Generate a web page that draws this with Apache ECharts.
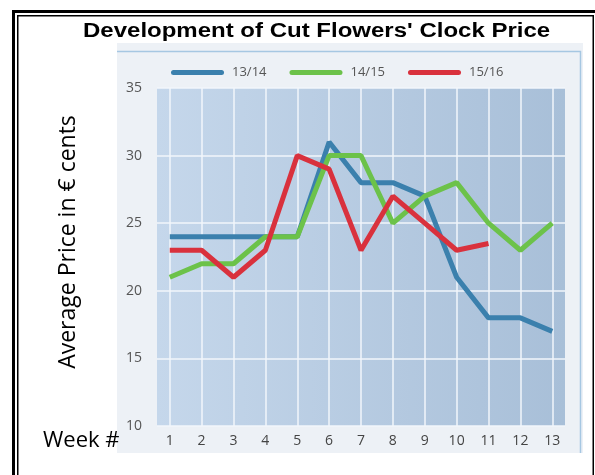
<!DOCTYPE html>
<html>
<head>
<meta charset="utf-8">
<script src="https://cdn.jsdelivr.net/npm/echarts@6/dist/echarts.min.js"></script>
<style>
  html, body { margin: 0; padding: 0; background: #fff; }
  #chart { width: 595px; height: 475px; }
</style>
</head>
<body>
<div id="chart"></div>
<script>
// chart data
var weeks = [1, 2, 3, 4, 5, 6, 7, 8, 9, 10, 11, 12, 13];
var seasons = ["13/14", "14/15", "15/16"];
var price1314 = [24, 24, 24, 24, 24, 31, 28, 28, 27, 21, 18, 18, 17];
var price1415 = [21, 22, 22, 24, 24, 30, 30, 25, 27, 28, 25, 23, 25];
var price1516 = [23, 23, 21, 23, 30, 29, 23, 27, 25, 23, 23.5];
var yTicks = [10, 15, 20, 25, 30, 35];
var colors = ["#3b80ad", "#6cc24a", "#d9313d"];

function pairs(values) {
    return values.map(function (v, i) { return [weeks[i], v]; });
}

var myChart = echarts.init(document.getElementById("chart"));
var font = "'Open Sans', sans-serif";

option = {
    animation: false,
    color: colors,
    legend: {
        data: seasons,
        left: 166,
        top: 61,
        itemWidth: 53,
        itemHeight: 5,
        itemGap: 23,
        icon: "path://M2.5,0 H50.5 A2.5,2.5 0 0 1 50.5,5 H2.5 A2.5,2.5 0 0 1 2.5,0 Z",
        textStyle: { fontFamily: font, fontSize: 13, color: "#555", padding: [0, 0, 0, 3] },
    },
    grid: {
        left: 157,
        right: 30,
        top: 88,
        bottom: 49,
        show: true,
        borderWidth: 0,
        backgroundColor: new echarts.graphic.LinearGradient(0, 0, 1, 0, [
            { offset: 0, color: "#c5d7eb" },
            { offset: 1, color: "#a8bfd8" },
        ]),
    },
    xAxis: {
        type: "value",
        min: 0.6,
        max: 13.4,
        axisLine: { show: false },
        axisTick: { show: false, customValues: weeks },
        axisLabel: {
            customValues: weeks,
            margin: 8,
            fontFamily: font,
            fontSize: 14,
            color: "#444",
        },
        splitLine: { show: true, lineStyle: { color: "#f2f6fb", width: 1.5 } },
    },
    yAxis: {
        type: "value",
        min: yTicks[0],
        max: yTicks[yTicks.length - 1],
        interval: 5,
        axisLine: { show: false },
        axisTick: { show: false },
        axisLabel: { margin: 15, fontFamily: font, fontSize: 14, color: "#555" },
        splitLine: { show: true, lineStyle: { color: "#f2f6fb", width: 1.5 } },
    },
    graphic: [
        // screenshot panel behind the chart
        {
            type: "rect", z: -10, silent: true,
            shape: { x: 117, y: 43, width: 466, height: 410 },
            style: { fill: "#edf1f6" },
        },
        {
            type: "polyline", z: -9, silent: true,
            shape: { points: [[117, 51.5], [580.5, 51.5], [580.5, 453]] },
            style: { stroke: "#a6c7e2", lineWidth: 1.5, fill: null },
        },
        // double page border
        {
            type: "rect", z: 100, silent: true,
            shape: { x: 13.5, y: 11.5, width: 600, height: 500 },
            style: { stroke: "#000", lineWidth: 3, fill: null },
        },
        {
            type: "rect", z: 100, silent: true,
            shape: { x: 17.75, y: 15.75, width: 575.5, height: 500 },
            style: { stroke: "#000", lineWidth: 1.5, fill: null },
        },
        // title is stretched wide in the original
        {
            type: "text", z: 100,
            x: 83, y: 31, scaleX: 1.2,
            style: {
                text: "Development of Cut Flowers' Clock Price",
                font: "bold 20px 'Liberation Sans', Arial, sans-serif",
                fill: "#000",
                textAlign: "left",
                textVerticalAlign: "middle",
            },
        },
        {
            type: "text", z: 100,
            x: 68, y: 242, rotation: Math.PI / 2,
            style: {
                text: "Average Price in € cents",
                font: "23px 'Open Sans', sans-serif",
                fill: "#000",
                textAlign: "center",
                textVerticalAlign: "middle",
            },
        },
        {
            type: "text", z: 100,
            x: 43, y: 441,
            style: {
                text: "Week #",
                font: "22px 'Open Sans', sans-serif",
                fill: "#000",
                textAlign: "left",
                textVerticalAlign: "middle",
            },
        },
    ],
    series: [
        { name: seasons[0], type: "line", symbol: "none", data: pairs(price1314), lineStyle: { width: 5 } },
        { name: seasons[1], type: "line", symbol: "none", data: pairs(price1415), lineStyle: { width: 5 } },
        { name: seasons[2], type: "line", symbol: "none", data: pairs(price1516), lineStyle: { width: 5 } },
    ],
};
myChart.setOption(option, true);
</script>
</body>
</html>
